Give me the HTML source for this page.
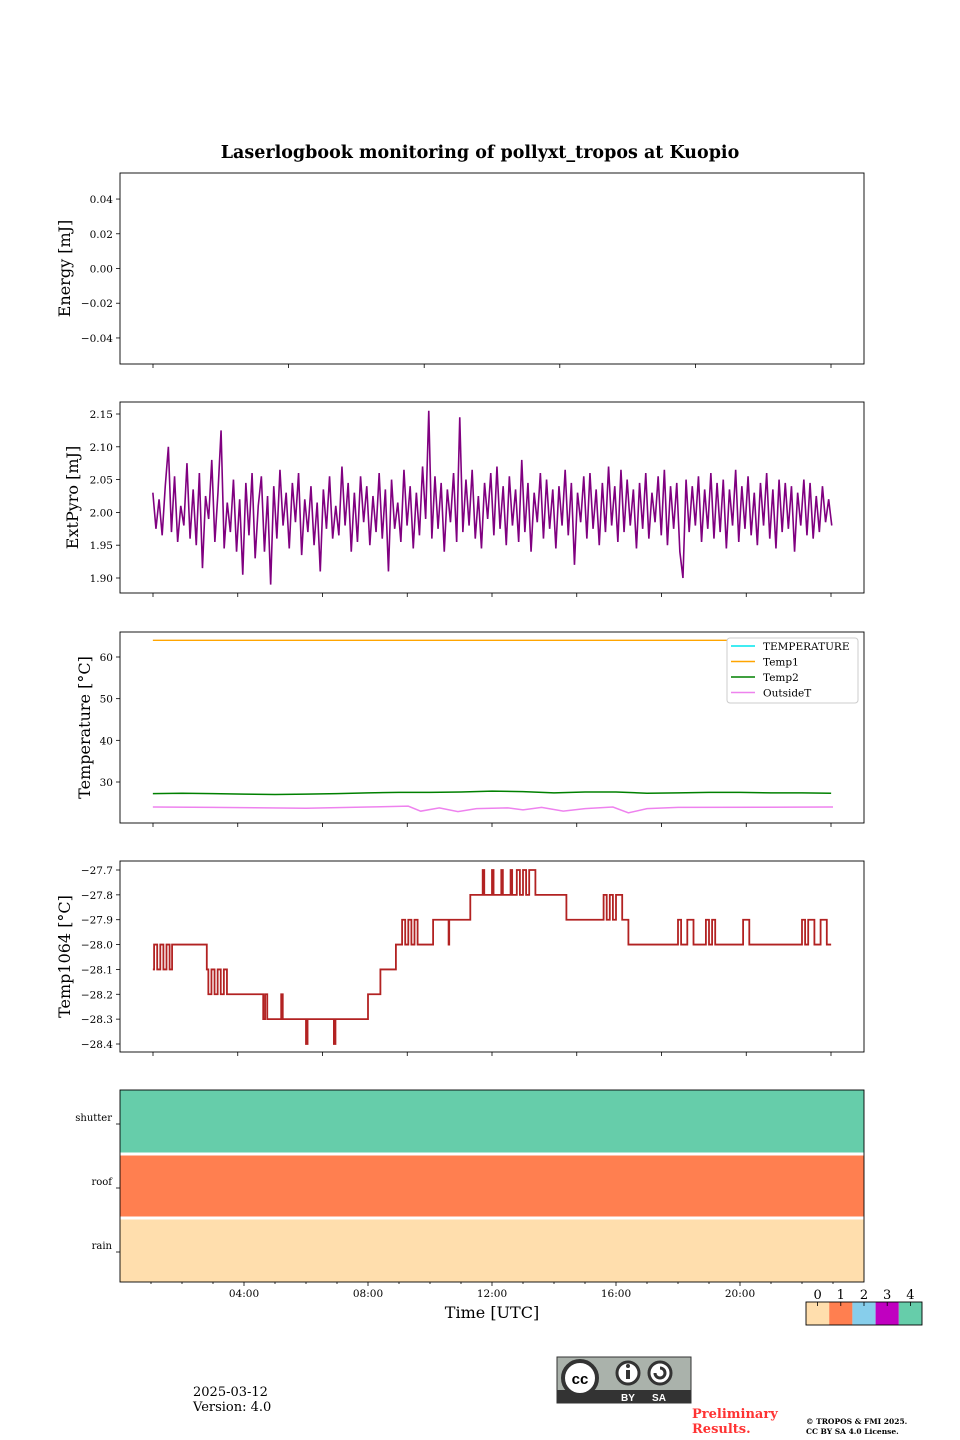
<!DOCTYPE html>
<html><head><meta charset="utf-8"><style>
body{margin:0;background:#fff}
svg{display:block;font-family:"DejaVu Serif","Liberation Serif",serif}
</style></head><body>
<svg id="fig" width="960" height="1440" viewBox="0 0 960 1440">
<text x="480" y="158" text-anchor="middle" font-size="17.5" font-weight="bold">Laserlogbook monitoring of pollyxt_tropos at Kuopio</text>
<g id="g"></g>
<text x="193" y="1396" font-size="13">2025-03-12</text>
<text x="193" y="1411" font-size="13">Version: 4.0</text>
<g>
<rect x="557" y="1357" width="134" height="46" fill="#aab2ab" stroke="#333"/>
<rect x="557" y="1390" width="134" height="13" fill="#333"/>
<circle cx="580" cy="1378" r="17" fill="#fff" stroke="#333" stroke-width="4"/>
<text x="580" y="1384" text-anchor="middle" font-size="15" font-weight="bold" font-family="Liberation Sans,sans-serif">cc</text>
<circle cx="628" cy="1373" r="11" fill="#fff" stroke="#333" stroke-width="3"/>
<rect x="626" y="1370" width="4" height="9" fill="#333"/><circle cx="628" cy="1366" r="2" fill="#333"/>
<circle cx="660" cy="1373" r="11" fill="#fff" stroke="#333" stroke-width="3"/>
<path d="M655 1373 a5 5 0 1 0 5-5" fill="none" stroke="#333" stroke-width="3"/>
<text x="628" y="1401" text-anchor="middle" font-size="10" fill="#fff" font-weight="bold" font-family="Liberation Sans,sans-serif">BY</text>
<text x="659" y="1401" text-anchor="middle" font-size="10" fill="#fff" font-weight="bold" font-family="Liberation Sans,sans-serif">SA</text>
</g>
<text x="692" y="1418" font-size="13" font-weight="bold" fill="#ff3333">Preliminary</text>
<text x="692" y="1433" font-size="13" font-weight="bold" fill="#ff3333">Results.</text>
<text x="806" y="1424" font-size="7.5" font-weight="bold">© TROPOS &amp; FMI 2025.</text>
<text x="806" y="1434" font-size="7.5" font-weight="bold">CC BY SA 4.0 License.</text>
</svg>
<script>
const pyroDev=[30,-25,20,-35,40,100,-30,55,-45,10,-20,75,-40,35,-50,60,-85,25,-10,80,-45,30,125,-55,15,-30,50,-60,20,-95,45,-35,60,-70,10,55,-60,25,-110,40,-40,65,-20,30,-55,45,-15,60,-65,20,-30,40,-50,15,-90,35,-25,55,-40,10,-35,70,-20,45,-60,30,-45,55,-15,40,-50,25,-30,60,-40,35,-90,50,-25,15,-45,65,-20,40,-55,30,-35,70,-10,155,-40,55,-25,45,-60,35,-15,60,-45,145,-30,50,-20,65,-40,25,-55,45,-10,60,-35,70,-25,40,-50,55,-20,35,-45,80,-30,45,-60,30,-15,60,-40,50,-25,35,-55,40,-20,65,-35,45,-80,30,-15,55,-40,60,-25,35,-50,45,-30,70,-20,40,-45,65,-30,50,-20,35,-55,45,-25,60,-40,30,-15,55,-35,65,-50,40,-25,45,-60,-100,50,-30,40,-20,55,-45,35,-25,60,-40,45,-30,50,-55,35,-20,65,-45,40,-25,55,-35,30,-50,45,-20,60,-40,35,-55,50,-30,45,-25,40,-60,30,-20,50,-35,45,-40,25,-30,40,-15,20,-20];
const pyroStart=1.06, pyroStep=0.1;
const temp1Hours=[1.06,22.94], temp1Vals=[64,64];
const temp2Hours=[1.06,2,3,4,5,6,7,8,9,10,11,12,13,14,15,16,17,18,19,20,21,22,22.94];
const temp2Vals=[27.2,27.3,27.2,27.1,27.0,27.1,27.2,27.4,27.5,27.5,27.6,27.8,27.7,27.4,27.6,27.6,27.3,27.4,27.5,27.5,27.4,27.4,27.3];
const outHours=[1.06,3,6,8,9.3,9.7,10.3,10.9,11.5,12.5,13,13.6,14.3,15,15.9,16.4,17,18,23];
const outVals=[24.0,23.9,23.7,24.0,24.2,23.0,23.8,22.9,23.6,23.8,23.3,23.9,23.0,23.6,24.0,22.6,23.6,23.9,24.0];
const t1064Hours=[1.06,1.1,1.2,1.3,1.4,1.5,1.6,1.68,2.8,2.85,2.95,3.05,3.15,3.25,3.35,3.45,4.58,4.62,4.68,4.75,5.2,5.25,6.0,6.05,6.9,6.95,8.0,8.4,8.9,9.1,9.2,9.3,9.4,9.5,9.6,10.1,10.6,10.62,10.7,11.3,11.7,11.75,12.0,12.05,12.3,12.35,12.6,12.65,12.8,12.9,13.0,13.1,13.2,13.4,14.4,15.6,15.7,15.8,15.9,16.0,16.2,16.4,18.0,18.1,18.3,18.5,18.9,19.0,19.1,19.2,20.1,20.3,22.0,22.1,22.2,22.4,22.6,22.8,22.94];
const t1064Vals=[-28.1,-28.0,-28.1,-28.0,-28.1,-28.0,-28.1,-28.0,-28.1,-28.2,-28.1,-28.2,-28.1,-28.2,-28.1,-28.2,-28.2,-28.3,-28.2,-28.3,-28.2,-28.3,-28.4,-28.3,-28.4,-28.3,-28.2,-28.1,-28.0,-27.9,-28.0,-27.9,-28.0,-27.9,-28.0,-27.9,-28.0,-27.9,-27.9,-27.8,-27.7,-27.8,-27.7,-27.8,-27.7,-27.8,-27.7,-27.8,-27.7,-27.8,-27.7,-27.8,-27.7,-27.8,-27.9,-27.8,-27.9,-27.8,-27.9,-27.8,-27.9,-28.0,-27.9,-28.0,-27.9,-28.0,-27.9,-28.0,-27.9,-28.0,-27.9,-28.0,-27.9,-28.0,-27.9,-28.0,-27.9,-28.0,-28.0];
const statusRows=['shutter','roof','rain'];
const statusVals=[4,1,0];
const statusColors=['#ffdead','#ff7f50','#87ceeb','#c000c0','#66cdaa'];
const yTicks1=[0.04,0.02,0.00,-0.02,-0.04];
const yTicks2=[2.15,2.10,2.05,2.00,1.95,1.90];
const yTicks3=[60,50,40,30];
const yTicks4=[-27.7,-27.8,-27.9,-28.0,-28.1,-28.2,-28.3,-28.4];
const timeTickHours=[4,8,12,16,20];

const NS='http://www.w3.org/2000/svg';
const G=document.getElementById('g');
function mk(tag,at,parent){const e=document.createElementNS(NS,tag);for(const k in at)e.setAttribute(k,at[k]);(parent||G).appendChild(e);return e;}
const X0=120,X1=864;
const xH=h=>X0+h*31;
function lin(d0,d1,p0,p1){return v=>p0+(v-d0)*(p1-p0)/(d1-d0);}
function panel(name,top,bot,ylab,ticks,fmt,ys,nx,labx){
  const gp=mk('g',{});
  
  
  ticks.forEach(t=>{const y=ys(t);
    mk('line',{x1:X0-4,x2:X0,y1:y,y2:y,stroke:'#000','stroke-width':0.8},gp);
    const tx=mk('text',{x:X0-7,y:y+4,'text-anchor':'end','font-size':10.5},gp);tx.textContent=fmt(t);
    
    
  });
  for(let i=0;i<nx;i++){const x=153+i*(678/(nx-1));mk('line',{x1:x,x2:x,y1:bot,y2:bot+4,stroke:'#000','stroke-width':0.8},gp);}
  const yl=mk('text',{x:0,y:0,'text-anchor':'middle','font-size':16,transform:`translate(${labx},${(top+bot)/2}) rotate(-90)`},gp);
  yl.textContent=ylab;
  
  
  return gp;
}
function frame(gp,top,bot){mk('rect',{x:X0,y:top,width:X1-X0,height:bot-top,fill:'none',stroke:'#000','stroke-width':0.9},gp);}
function poly(gp,hs,vs,ys,color,w,name,step){
  let pts=[];
  for(let i=0;i<hs.length;i++){
    if(step&&i>0)pts.push(xH(hs[i])+','+ys(vs[i-1]));
    pts.push(xH(hs[i])+','+ys(vs[i]));
  }
  const p=mk('polyline',{points:pts.join(' '),fill:'none',stroke:color,'stroke-width':w,'stroke-linejoin':'miter'},gp);
  
  
}
let y1=lin(-0.055,0.055,364,173);
let p1=panel('energy-panel',173,364,'Energy [mJ]',yTicks1,v=>(v<0?'−':'')+Math.abs(v).toFixed(2),y1,6,70);
frame(p1,173,364);
let y2=lin(1.90,2.15,578,414);
let p2=panel('extpyro-panel',402,593,'ExtPyro [mJ]',yTicks2,v=>v.toFixed(2),y2,9,78);
const pyH=pyroDev.map((d,i)=>pyroStart+i*pyroStep), pyV=pyroDev.map(d=>2+d/1000);
poly(p2,pyH,pyV,y2,'#800080',1.6,'extpyro-line',false);
frame(p2,402,593);
let y3=lin(30,60,782,657);
let p3=panel('temperature-panel',632,823,'Temperature [°C]',yTicks3,v=>String(v),y3,9,90);
poly(p3,temp1Hours,temp1Vals,y3,'#ffa500',1.3,'temp1-line',false);
poly(p3,temp2Hours,temp2Vals,y3,'#008000',1.5,'temp2-line',false);
poly(p3,outHours,outVals,y3,'#ee82ee',1.5,'outsidet-line',false);
frame(p3,632,823);
const lg=mk('g',{},p3);


mk('rect',{x:727,y:638,width:131,height:65,rx:3,fill:'#fff',stroke:'#ccc'},lg);
[['TEMPERATURE','#00e5ee'],['Temp1','#ffa500'],['Temp2','#008000'],['OutsideT','#ee82ee']].forEach((e,i)=>{
  const y=646+i*15.5;
  mk('line',{x1:731,x2:755,y1:y,y2:y,stroke:e[1],'stroke-width':1.5},lg);
  const t=mk('text',{x:763,y:y+4,'font-size':10.5},lg);t.textContent=e[0];
  
  
});
let y4=lin(-28.4,-27.7,1044,870);
let p4=panel('temp1064-panel',861,1052,'Temp1064 [°C]',yTicks4,v=>'−'+Math.abs(v).toFixed(1),y4,9,70);
poly(p4,t1064Hours,t1064Vals,y4,'#b22222',1.8,'temp1064-line',true);
frame(p4,861,1052);
const p5=mk('g',{});


const rowH=(1282-1090)/statusRows.length;
statusRows.forEach((r,i)=>{
  const top=1090+i*rowH;
  const b=mk('rect',{x:X0,y:top,width:X1-X0,height:rowH,fill:statusColors[statusVals[i]]},p5);
  
  
  if(i>0)mk('line',{x1:X0,x2:X1,y1:top,y2:top,stroke:'#fff','stroke-width':3},p5);
  const c=top+rowH/2-6;
  mk('line',{x1:X0-4,x2:X0,y1:c+8,y2:c+8,stroke:'#000','stroke-width':0.8},p5);
  const t=mk('text',{x:X0-8,y:c+5,'text-anchor':'end','font-size':10},p5);t.textContent=r;
  
  
});
for(let h=1;h<24;h++)mk('line',{x1:xH(h),x2:xH(h),y1:1282,y2:1282+(h%4?2:4),stroke:'#000','stroke-width':0.8},p5);
timeTickHours.forEach(h=>{const t=mk('text',{x:xH(h),y:1297,'text-anchor':'middle','font-size':10.5},p5);t.textContent=String(h).padStart(2,'0')+':00';
  
  });
mk('rect',{x:X0,y:1090,width:X1-X0,height:192,fill:'none',stroke:'#000','stroke-width':0.9},p5);
const xt=mk('text',{x:492,y:1318,'text-anchor':'middle','font-size':16},p5);xt.textContent='Time [UTC]';


const cb=mk('g',{});


statusColors.forEach((c,i)=>{
  mk('rect',{x:806+i*23.2,y:1302,width:23.2,height:23,fill:c},cb);
  const cx=806+i*23.2+11.6;
  mk('line',{x1:cx,x2:cx,y1:1302,y2:1306,stroke:'#000','stroke-width':0.8},cb);
  const t=mk('text',{x:cx,y:1299,'text-anchor':'middle','font-size':13},cb);t.textContent=String(i);
});
mk('rect',{x:806,y:1302,width:116,height:23,fill:'none',stroke:'#000','stroke-width':0.9},cb);
</script>
</body></html>
